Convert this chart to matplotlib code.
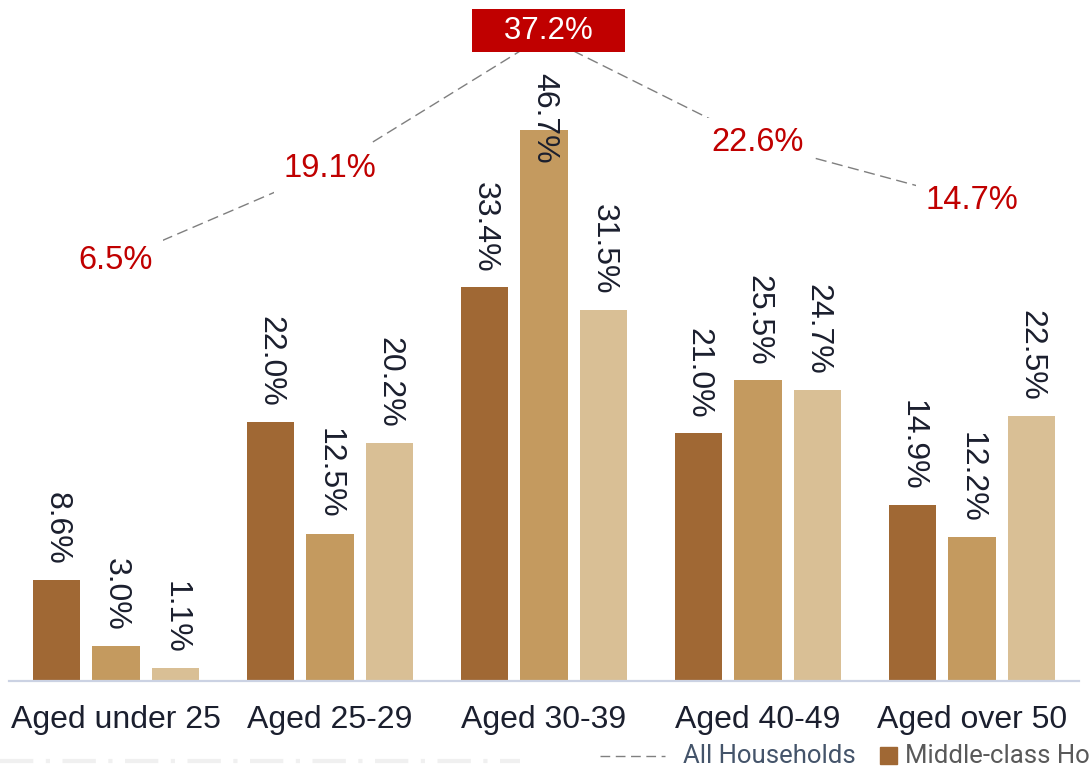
import matplotlib.pyplot as plt
import numpy as np
from matplotlib.lines import Line2D
from matplotlib.patches import Rectangle

plt.rcParams['font.family'] = ['Liberation Sans', 'DejaVu Sans']

categories = ["Aged under 25", "Aged 25-29", "Aged 30-39", "Aged 40-49", "Aged over 50"]
middle_class = [8.6, 22.0, 33.4, 21.0, 14.9]
upper_middle = [3.0, 12.5, 46.7, 25.5, 12.2]
affluent = [1.1, 20.2, 31.5, 24.7, 22.5]
all_households = [6.5, 19.1, 37.2, 22.6, 14.7]

series = [middle_class, upper_middle, affluent]
colors = ["#A06834", "#C49A5F", "#D9BF95"]
text_col = "#1B1F2E"
red = "#C00000"

W, H = 1089, 771
fig = plt.figure(figsize=(W / 100, H / 100), dpi=100)
ax = fig.add_axes([9 / W, 90 / H, 1070 / W, 671 / H])

x = np.arange(len(categories))
step, width = 0.278, 0.224
for i, (vals, c) in enumerate(zip(series, colors)):
    xs = x + (i - 1) * step
    ax.bar(xs, vals, width=width, color=c, zorder=2)
    for xi, v in zip(xs, vals):
        lbl = f"{v:.1f}%"
        if v > 40:
            # tallest bar: label pushed down from the top edge
            ax.text(xi, 51.6, lbl, rotation=270, ha="center", va="top",
                    fontsize=23, color=text_col, zorder=3)
        else:
            ax.text(xi, v + 1.25, lbl, rotation=270, ha="center", va="bottom",
                    fontsize=23, color=text_col, zorder=3)

ax.set_xlim(-0.5, 4.5)
ax.set_ylim(0, 56.9)
ax.set_xticks(x)
ax.set_xticklabels(categories, fontsize=23, color=text_col)
ax.tick_params(axis="x", length=0, pad=17)
ax.set_yticks([])
for s in ["top", "right", "left"]:
    ax.spines[s].set_visible(False)
ax.spines["bottom"].set_color("#CBD2E3")
ax.spines["bottom"].set_linewidth(1.6)

# all-households share on its own scale
ax2 = ax.twinx()
ax2.set_ylim(-51.1, 40.8)
ax2.set_xlim(-0.5, 4.5)
ax2.axis("off")
ax2.plot(x, all_households, color="#7F7F7F", lw=1.0, dashes=(8, 4), zorder=1)
for xi, v in zip(x, all_households):
    if v == max(all_households):
        ax2.annotate(f"   {v:.1f}%   ", (xi, v), xytext=(3, 4),
                     textcoords="offset points", ha="center", va="center",
                     fontsize=22.5, color="white", zorder=4,
                     bbox=dict(boxstyle="square,pad=0.2", fc=red, ec="none"))
    else:
        ax2.text(xi, v, f"{v:.1f}%", ha="center", va="center", fontsize=23.5,
                 color=red, zorder=4,
                 bbox=dict(boxstyle="square,pad=0.3", fc="white", ec="none"))

# legend row along the bottom edge
ly = 1 - 756 / H
fig.add_artist(Line2D([600 / W, 665 / W], [ly, ly], color="#808080", lw=1.0,
                      dashes=(7, 4), transform=fig.transFigure))
fig.text(683 / W, ly, "All Households", fontsize=18.5, color="#44546A",
         va="center", ha="left", family=["Roboto", "DejaVu Sans"])
fig.add_artist(Rectangle((880 / W, 1 - 764 / H), 17 / W, 17 / H, color=colors[0],
                         transform=fig.transFigure))
fig.text(905 / W, ly, "Middle-class Households", fontsize=18.5, color="#595959",
         va="center", ha="left", family=["Roboto", "DejaVu Sans"])

# faint dash-dot rule at the very bottom
fig.add_artist(Line2D([0, 520 / W], [1 - 761 / H] * 2, color="#F0F0F0", lw=3,
                      dashes=(8, 3, 1, 3), solid_capstyle="butt",
                      dash_capstyle="butt", transform=fig.transFigure))

fig.savefig("out.png", dpi=100)
